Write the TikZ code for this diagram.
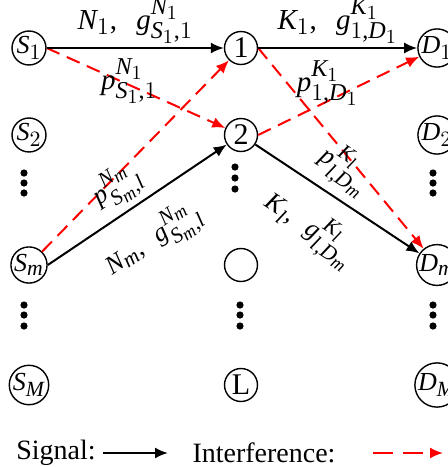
\documentclass[tikz,border=0pt]{standalone}
\usepackage{fontspec}
\setmainfont{Liberation Serif}
\usepackage[italic]{mathastext}
\usepackage{tikz}
\usetikzlibrary{arrows.meta}

\begin{document}
\begin{tikzpicture}[x=0.5pt,y=-0.5pt,
    terminal/.style={circle,draw,line width=0.7pt,inner sep=0pt,minimum size=16.5pt,font=\fontsize{13}{15}\selectfont},
    relay/.style={terminal,font=\fontsize{15}{17}\selectfont},
    signal/.style={-{Latex[length=6.5pt,width=5.5pt]},line width=1pt},
    interf/.style={-{Latex[length=6.5pt,width=5.5pt]},line width=1pt,red,dash pattern=on 7pt off 4pt},
    lbl/.style={font=\fontsize{14.5}{16}\selectfont,inner sep=2pt},
    slbl/.style={font=\fontsize{13}{15}\selectfont,sloped,inner sep=2pt},
    legend/.style={font=\fontsize{14}{16}\selectfont}
]
\useasboundingbox (0,0) rectangle (448,467);
\clip (0,0) rectangle (448,467);
% sources
\node[terminal] (s1) at (29,48) {$S_1$};
\node[terminal] (s2) at (29,135) {$S_2$};
\node[terminal] (sm) at (29,265) {$S_m$};
\node[terminal] (sM) at (29,385) {$S_M$};
% relays
\node[relay] (r1) at (241,48) {1};
\node[relay] (r2) at (241,135) {2};
\node[relay] (rl) at (241,265) {};
\node[relay] (rL) at (241,385) {L};
% destinations
\node[terminal] (d1) at (437,48) {$D_1$};
\node[terminal] (d2) at (437,135) {$D_2$};
\node[terminal] (dm) at (437,265) {$D_m$};
\node[terminal] (dM) at (437,385) {$D_M$};
% dots
\foreach \x in {24,433} {
  \foreach \y in {173,183,193,305,315,326}
    \fill (\x,\y) circle (1.8pt);
}
\foreach \y in {167,178,189} \fill (235,\y) circle (1.8pt);
\foreach \y in {305,315,326} \fill (240,\y) circle (1.8pt);
% interference
\draw[interf] (s1.east) -- (r2);
\draw[interf] (sm) -- (r1);
\draw[interf] (r2.east) -- (d1);
\draw[interf] (r1.east) -- (dm);
% signal
\draw[signal] (s1) -- node[lbl,above]{$N_1,\ \ g^{N_1}_{S_1,1}$} node[lbl,below=3pt,xshift=-3pt]{$p^{N_1}_{S_1,1}$} (r1);
\draw[signal] (r1) -- node[lbl,above]{$K_1,\ \ g^{K_1}_{1,D_1}$} node[lbl,below=4pt,xshift=-5pt]{$p^{K_1}_{1,D_1}$} (d1);
\draw[signal] (sm.east) -- node[slbl,above=1pt,pos=0.47]{$p^{N_m}_{S_m,l}$} node[slbl,below=7pt,pos=0.47]{$N_m,\ \ g^{N_m}_{S_m,l}$} (r2);
\draw[signal] (r2) -- node[slbl,above=2pt,pos=0.45]{$p^{K_l}_{l,D_m}$} node[slbl,below=7pt,pos=0.47]{$K_l,\ \ g^{K_l}_{l,D_m}$} (dm);
% legend
\node[legend] (sigtxt) at (56,453) {Signal:};
\coordinate (sigend) at (168,453);
\draw[signal] (sigtxt.east) -- (sigend);
\node[legend] (inftxt) at (264,453) {Interference:};
\coordinate (infbeg) at (373,453);
\coordinate (infend) at (443,453);
\draw[interf,dash pattern=on 10pt off 5pt] (infbeg) -- (infend);
\end{tikzpicture}
\end{document}
